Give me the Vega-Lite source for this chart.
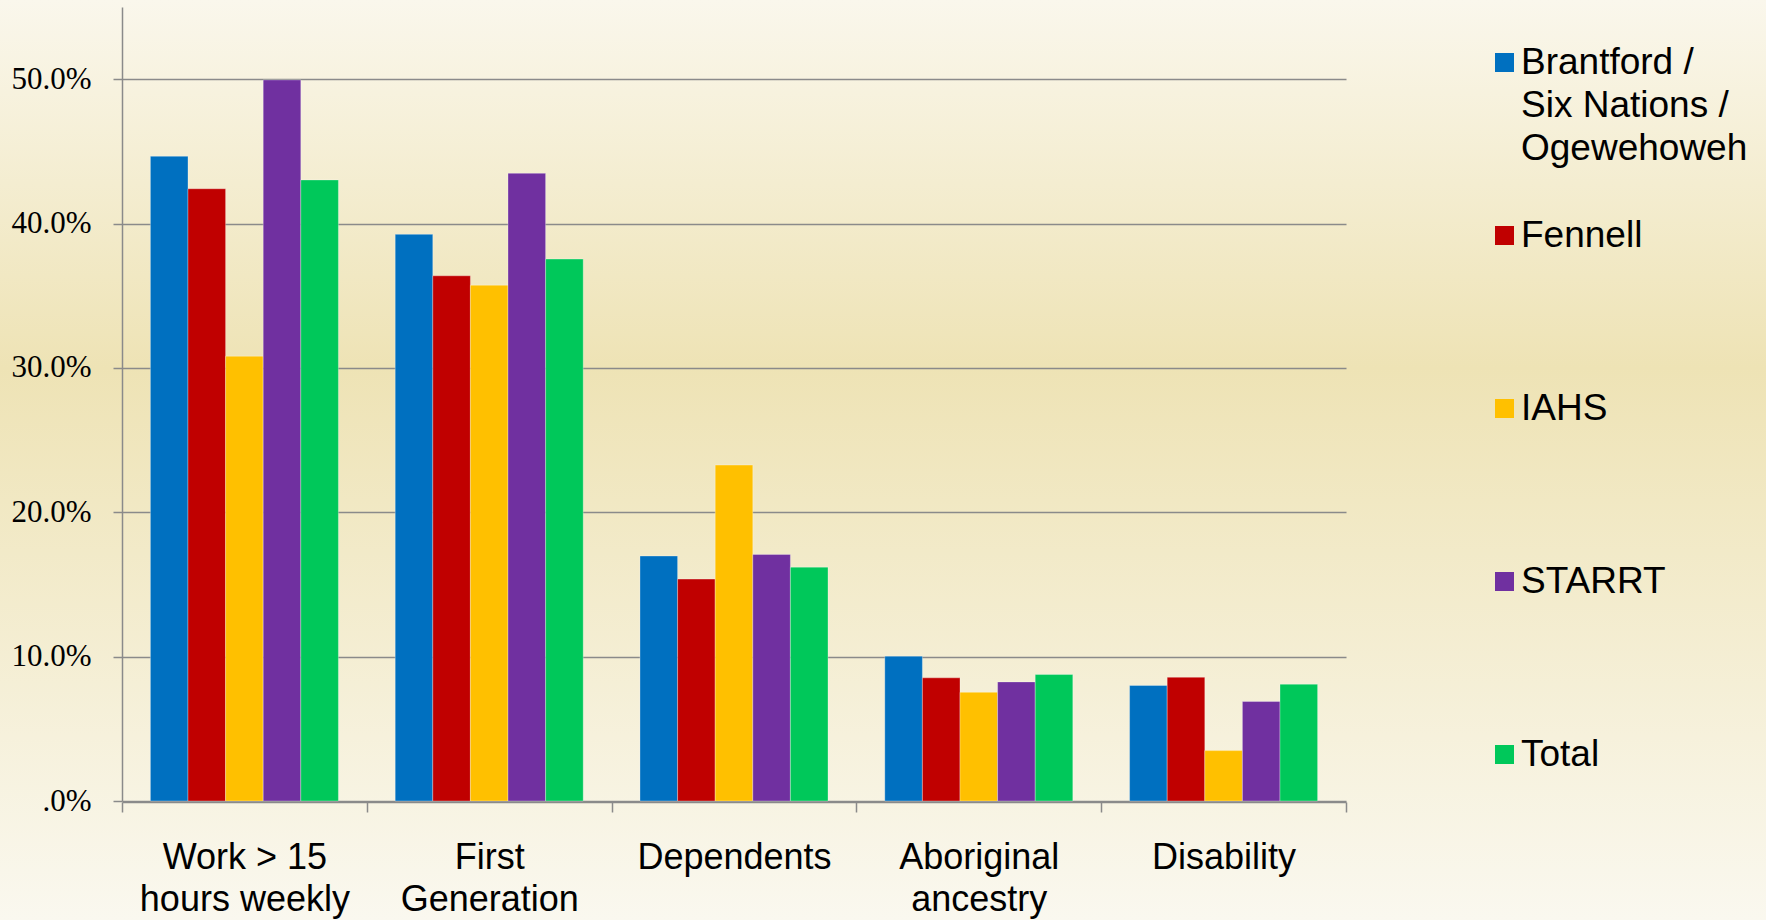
{
  "$schema": "https://vega.github.io/schema/vega-lite/v6.json",
  "width": 1766,
  "height": 920,
  "autosize": {"type": "none"},
  "padding": 0,
  "background": "#f3ebc9",
  "config": {
    "view": {
      "stroke": null,
      "fill": {
        "gradient": "linear", "x1": 0, "y1": 0, "x2": 0, "y2": 1,
        "stops": [
          {"offset": 0, "color": "#faf7ec"},
          {"offset": 0.4, "color": "#eee3b5"},
          {"offset": 1, "color": "#faf8ef"}
        ]
      }
    },
    "style": {"guide-label": {"lineHeight": 43}}
  },
  "data": {
    "values": [
      {"category": "Work > 15 hours weekly", "series": "Brantford / Six Nations / Ogewehoweh", "value": 44.66},
      {"category": "Work > 15 hours weekly", "series": "Fennell", "value": 42.41},
      {"category": "Work > 15 hours weekly", "series": "IAHS", "value": 30.81},
      {"category": "Work > 15 hours weekly", "series": "STARRT", "value": 49.95},
      {"category": "Work > 15 hours weekly", "series": "Total", "value": 43.02},
      {"category": "First Generation", "series": "Brantford / Six Nations / Ogewehoweh", "value": 39.25},
      {"category": "First Generation", "series": "Fennell", "value": 36.38},
      {"category": "First Generation", "series": "IAHS", "value": 35.73},
      {"category": "First Generation", "series": "STARRT", "value": 43.48},
      {"category": "First Generation", "series": "Total", "value": 37.54},
      {"category": "Dependents", "series": "Brantford / Six Nations / Ogewehoweh", "value": 16.97},
      {"category": "Dependents", "series": "Fennell", "value": 15.37},
      {"category": "Dependents", "series": "IAHS", "value": 23.27},
      {"category": "Dependents", "series": "STARRT", "value": 17.08},
      {"category": "Dependents", "series": "Total", "value": 16.2},
      {"category": "Aboriginal ancestry", "series": "Brantford / Six Nations / Ogewehoweh", "value": 10.03},
      {"category": "Aboriginal ancestry", "series": "Fennell", "value": 8.53},
      {"category": "Aboriginal ancestry", "series": "IAHS", "value": 7.53},
      {"category": "Aboriginal ancestry", "series": "STARRT", "value": 8.25},
      {"category": "Aboriginal ancestry", "series": "Total", "value": 8.76},
      {"category": "Disability", "series": "Brantford / Six Nations / Ogewehoweh", "value": 8.0},
      {"category": "Disability", "series": "Fennell", "value": 8.57},
      {"category": "Disability", "series": "IAHS", "value": 3.49},
      {"category": "Disability", "series": "STARRT", "value": 6.89},
      {"category": "Disability", "series": "Total", "value": 8.09}
    ]
  },
  "mark": {"type": "bar", "stroke": "#ffffff", "strokeOpacity": 0.3, "strokeWidth": 1},
  "encoding": {
    "x": {
      "field": "category",
      "type": "nominal",
      "sort": ["Work > 15 hours weekly", "First Generation", "Dependents", "Aboriginal ancestry", "Disability"],
      "scale": {"range": [122, 1346], "paddingInner": 0, "paddingOuter": 0},
      "axis": {
        "title": null,
        "orient": "bottom",
        "offset": -118,
        "tickBand": "extent",
        "tickSize": 10,
        "tickWidth": 1.5,
        "tickColor": "#8a8a8a",
        "domainColor": "#8a8a8a",
        "domainWidth": 1.5,
        "grid": false,
        "labelAngle": 0,
        "labelFont": "Liberation Sans",
        "labelFontSize": 36,
        "labelColor": "#000000",
        "labelLineHeight": 42,
        "labelPadding": 28,
        "labelLimit": 400,
        "labelExpr": "datum.label == 'Work > 15 hours weekly' ? ['Work > 15', 'hours weekly'] : datum.label == 'First Generation' ? ['First', 'Generation'] : datum.label == 'Aboriginal ancestry' ? ['Aboriginal', 'ancestry'] : datum.label"
      }
    },
    "xOffset": {
      "field": "series",
      "type": "nominal",
      "sort": ["Brantford / Six Nations / Ogewehoweh", "Fennell", "IAHS", "STARRT", "Total"],
      "scale": {"paddingInner": 0, "paddingOuter": 0.755}
    },
    "y": {
      "field": "value",
      "type": "quantitative",
      "scale": {"domain": [0, 55], "range": [801, 7], "nice": false},
      "axis": {
        "title": null,
        "orient": "left",
        "offset": -122,
        "values": [0, 10, 20, 30, 40, 50],
        "grid": true,
        "gridColor": "#8a8a8a",
        "gridWidth": 1.5,
        "tickSize": 9,
        "tickWidth": 1.5,
        "tickColor": "#8a8a8a",
        "domainColor": "#8a8a8a",
        "domainWidth": 1.5,
        "labelFont": "Liberation Serif",
        "labelFontSize": 31,
        "labelColor": "#000000",
        "labelPadding": 22,
        "labelExpr": "datum.value == 0 ? '.0%' : format(datum.value, '.1f') + '%'"
      }
    },
    "color": {
      "field": "series",
      "type": "nominal",
      "sort": ["Brantford / Six Nations / Ogewehoweh", "Fennell", "IAHS", "STARRT", "Total"],
      "scale": {
        "domain": ["Brantford / Six Nations / Ogewehoweh", "Fennell", "IAHS", "STARRT", "Total"],
        "range": ["#0070c0", "#c00000", "#ffc000", "#7030a0", "#00c85a"]
      },
      "legend": {
        "title": null,
        "orient": "none",
        "legendX": 1486,
        "legendY": 44,
        "padding": 0,
        "symbolType": "square",
        "symbolSize": 361,
        "symbolStrokeWidth": 0,
        "symbolOpacity": 1,
        "labelFont": "Liberation Sans",
        "labelFontSize": 37,
        "labelColor": "#000000",
        "labelBaseline": "middle",
        "labelOffset": -2,
        "labelLimit": 500,
        "gridAlign": "all",
        "rowPadding": 49,
        "labelExpr": "datum.label == 'Brantford / Six Nations / Ogewehoweh' ? ['Brantford /', 'Six Nations /', 'Ogewehoweh'] : datum.label"
      }
    }
  }
}
